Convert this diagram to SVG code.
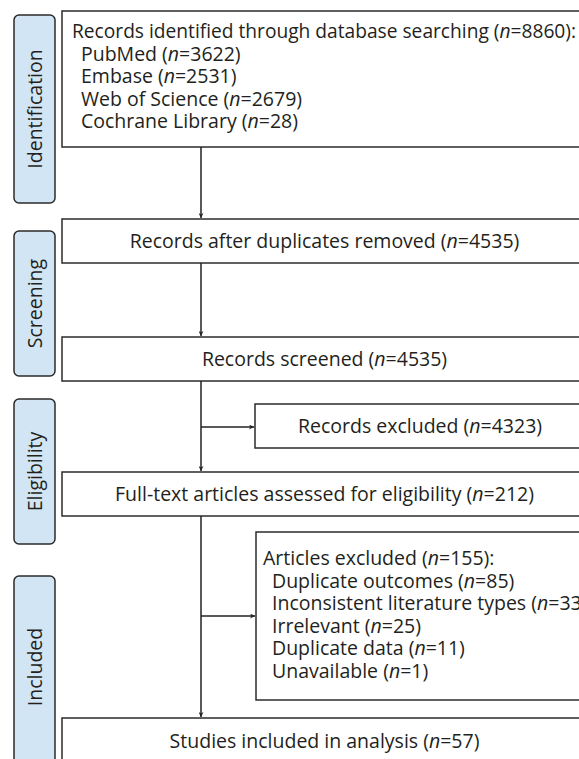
<svg xmlns="http://www.w3.org/2000/svg" width="579" height="759" viewBox="0 0 579 759">
<style>
.box{fill:#fff;stroke:#2b2b2b;stroke-width:1.5}
.side{fill:#d2e5f4;stroke:#2b2b2b;stroke-width:1.5}
text{font-family:"Open Sans","Noto Sans",sans-serif;font-size:19.5px;fill:#231f20}
.c{text-anchor:middle}
.line{stroke:#222;stroke-width:1.5;fill:none}
</style>
<defs>
<marker id="ah" viewBox="0 0 10 10" refX="10" refY="5" markerWidth="5" markerHeight="5" orient="auto" markerUnits="userSpaceOnUse">
<path d="M0,0 L10,5 L0,10 L3,5 Z" fill="#222"/>
</marker>
</defs>
<rect width="579" height="759" fill="#fff"/>
<g id="side-identification"><rect class="side" x="14" y="15" width="41" height="188" rx="5"/><text class="c" transform="translate(42,109) rotate(-90)">Identification</text></g>
<g id="side-screening"><rect class="side" x="14" y="231" width="41" height="145" rx="5"/><text class="c" transform="translate(42,303.5) rotate(-90)">Screening</text></g>
<g id="side-eligibility"><rect class="side" x="14" y="399" width="41" height="145" rx="5"/><text class="c" transform="translate(42,471.5) rotate(-90)">Eligibility</text></g>
<g id="side-included"><rect class="side" x="14" y="576" width="41" height="200" rx="5"/><text class="c" transform="translate(42,667) rotate(-90)">Included</text></g>

<g id="identified"><rect class="box" x="62" y="11" width="525" height="136"/>
<text x="72" y="38" textLength="504" lengthAdjust="spacingAndGlyphs">Records identified through database searching (<tspan font-style="italic">n</tspan>=8860):</text>
<text x="81" y="61">PubMed (<tspan font-style="italic">n</tspan>=3622)</text>
<text x="81" y="83">Embase (<tspan font-style="italic">n</tspan>=2531)</text>
<text x="81" y="106">Web of Science (<tspan font-style="italic">n</tspan>=2679)</text>
<text x="81" y="128">Cochrane Library (<tspan font-style="italic">n</tspan>=28)</text></g>
<g id="dedup"><rect class="box" x="62" y="219" width="525" height="44"/><text class="c" x="324.5" y="248">Records after duplicates removed (<tspan font-style="italic">n</tspan>=4535)</text></g>
<g id="screened"><rect class="box" x="62" y="337" width="525" height="44"/><text class="c" x="324.5" y="366">Records screened (<tspan font-style="italic">n</tspan>=4535)</text></g>
<g id="excluded1"><rect class="box" x="255" y="404" width="332" height="44"/><text class="c" x="420" y="433">Records excluded (<tspan font-style="italic">n</tspan>=4323)</text></g>
<g id="fulltext"><rect class="box" x="62" y="472" width="525" height="44"/><text class="c" x="324.5" y="501">Full-text articles assessed for eligibility (<tspan font-style="italic">n</tspan>=212)</text></g>
<g id="excluded2"><rect class="box" x="256" y="532" width="331" height="168"/>
<text x="263" y="565">Articles excluded (<tspan font-style="italic">n</tspan>=155):</text>
<text x="272" y="588">Duplicate outcomes (<tspan font-style="italic">n</tspan>=85)</text>
<text x="272" y="610">Inconsistent literature types (<tspan font-style="italic">n</tspan>=33)</text>
<text x="272" y="633">Irrelevant (<tspan font-style="italic">n</tspan>=25)</text>
<text x="272" y="655">Duplicate data (<tspan font-style="italic">n</tspan>=11)</text>
<text x="272" y="678">Unavailable (<tspan font-style="italic">n</tspan>=1)</text></g>
<g id="included"><rect class="box" x="62" y="718" width="525" height="60"/><text class="c" x="324.5" y="748">Studies included in analysis (<tspan font-style="italic">n</tspan>=57)</text></g>

<g id="connectors">
<path class="line" d="M201,147 V218" marker-end="url(#ah)"/>
<path class="line" d="M201,263 V336" marker-end="url(#ah)"/>
<path class="line" d="M201,381 V471" marker-end="url(#ah)"/>
<path class="line" d="M201,427 H254" marker-end="url(#ah)"/>
<path class="line" d="M201,516 V717" marker-end="url(#ah)"/>
<path class="line" d="M201,616 H255" marker-end="url(#ah)"/>
</g>
</svg>
